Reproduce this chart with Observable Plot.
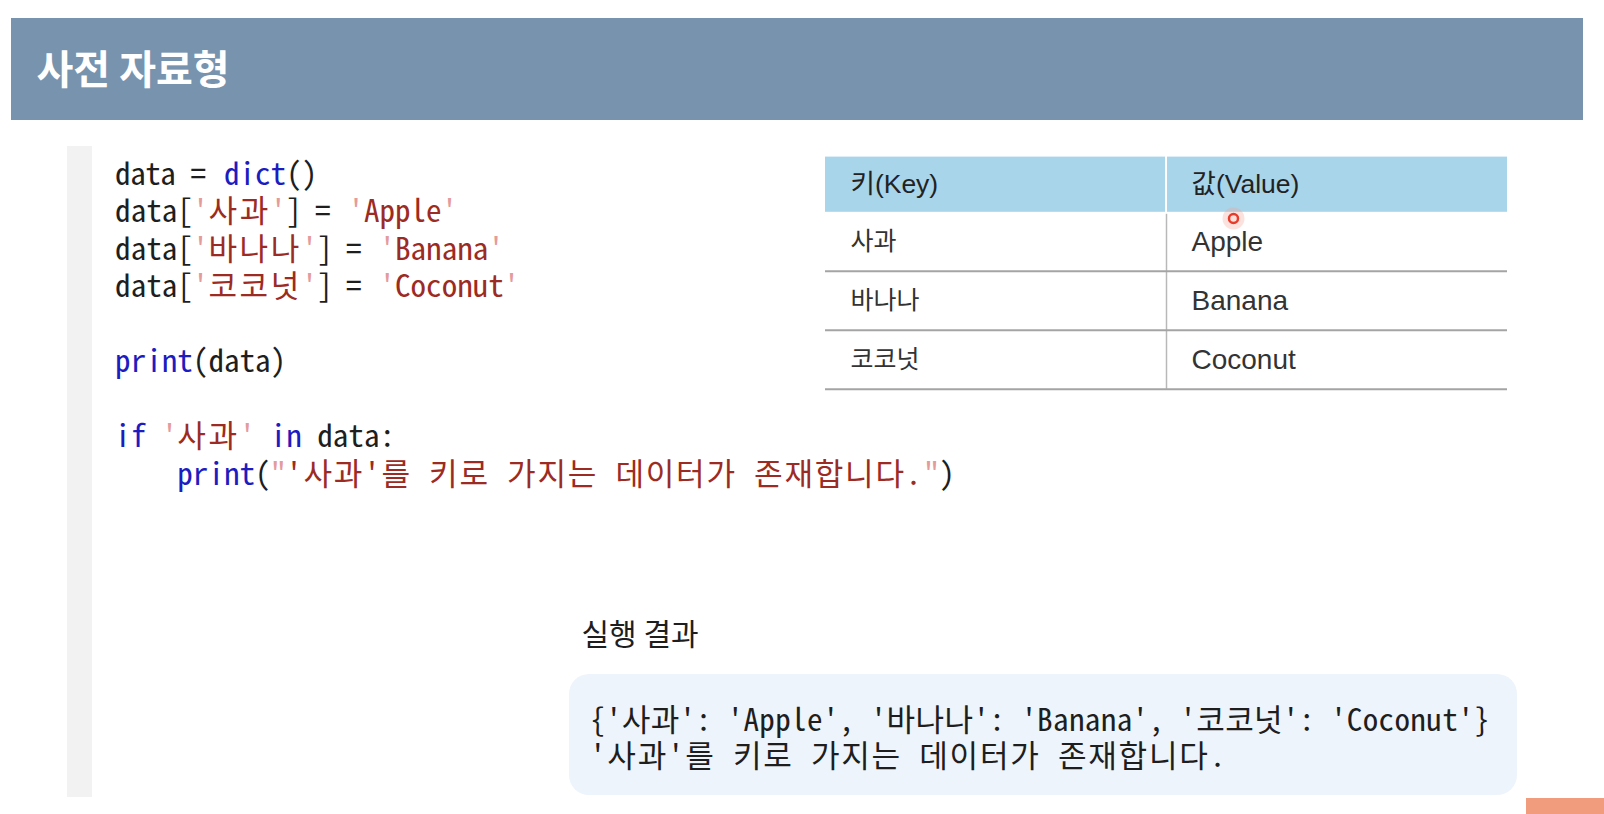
<!DOCTYPE html>
<html><head><meta charset="utf-8">
<script src="https://cdn.jsdelivr.net/npm/d3@7"></script>
<script src="https://cdn.jsdelivr.net/npm/@observablehq/plot@0.6"></script>
<style>html,body{margin:0;padding:0;background:#fff;overflow:hidden}svg{display:block}</style>
</head><body><div id="chart"></div>
<script>
// ---------- content ----------
const slideTitle = "사전 자료형";
// code tokens: [text, kind]  (t = plain, k = keyword, s = string, q = quote mark)
const codeLines = [
  [["data = ","t"],["dict","k"],["()","t"]],
  [["data[","t"],["'","q"],["사과","s"],["'","q"],["] = ","t"],["'","q"],["Apple","s"],["'","q"]],
  [["data[","t"],["'","q"],["바나나","s"],["'","q"],["] = ","t"],["'","q"],["Banana","s"],["'","q"]],
  [["data[","t"],["'","q"],["코코넛","s"],["'","q"],["] = ","t"],["'","q"],["Coconut","s"],["'","q"]],
  [],
  [["print","k"],["(data)","t"]],
  [],
  [["if ","k"],["'","q"],["사과","s"],["'","q"],[" in","k"],[" data:","t"]],
  [["    print","k"],["(","t"],["\"","q"],["'사과'를 키로 가지는 데이터가 존재합니다.","s"],["\"","q"],[")","t"]]
];
const tableHeader = ["키(Key)", "값(Value)"];
const tableKeys = ["사과", "바나나", "코코넛"];
const tableValues = ["Apple", "Banana", "Coconut"];
const resultLabel = "실행 결과";
const resultLines = [
  "{'사과': 'Apple', '바나나': 'Banana', '코코넛': 'Coconut'}",
  "'사과'를 키로 가지는 데이터가 존재합니다."
];

// ---------- layout / style ----------
const W = 1604, H = 814;
const kindColor = {t: "#1e1e1e", k: "#1c1cc0", s: "#9c2b24", q: "#e49b9b"};
const monoFont = "'Noto Sans Mono CJK KR', 'D2Coding', 'DejaVu Sans Mono', monospace";
const krFont = "'Noto Sans CJK KR', 'Noto Sans', sans-serif";
const tableFont = "'Liberation Sans', 'Noto Sans CJK KR', sans-serif";
const cellW = 15.55;
const monoSize = cellW * 2;
const isWide = ch => /[\u1100-\u11ff\u3130-\u318f\uac00-\ud7af]/.test(ch);
const cols = s => Array.from(s).reduce((n, ch) => n + (isWide(ch) ? 2 : 1), 0);

// place each token at its column on a monospace grid (Hangul = 2 columns)
function gridTokens(tokens, x0, baseline) {
  const out = [];
  let col = 0;
  for (const [txt, kind] of tokens) {
    const lead = txt.length - txt.trimStart().length;
    const body = txt.trim();
    if (body) out.push({text: body, x: x0 + (col + lead) * cellW, y: baseline, color: kindColor[kind], len: cols(body) * cellW});
    col += cols(txt);
  }
  return out;
}

const codeX0 = 114.6, codeBase0 = 184, codeLH = 37.5;
const codeTokens = codeLines.flatMap((toks, i) => gridTokens(toks, codeX0, codeBase0 + i * codeLH));
const resX0 = 589.5, resBase0 = 730, resLH = 36.8;
const resultTokens = resultLines.flatMap((line, i) => gridTokens([[line, "t"]], resX0, resBase0 + i * resLH));

const tX1 = 825, tXm = 1166, tX2 = 1507, tTop = 156.6, tHeadBot = 211.8, tRowH = 59.0;
const rowMid = i => tHeadBot + tRowH * (i + 0.5);
const rowBot = i => tHeadBot + tRowH * (i + 1);

const chart = Plot.plot({
  width: W, height: H, margin: 0,
  x: {type: "linear", domain: [0, W], range: [0, W], axis: null},
  y: {type: "linear", domain: [0, H], range: [0, H], axis: null},
  color: {type: "identity"},
  style: {background: "#ffffff"},
  marks: [
    // title bar
    Plot.rect([slideTitle], {x1: 11, x2: 1583, y1: 18, y2: 120, fill: "#7893ae"}),
    Plot.text([slideTitle], {x: 36, y: 71, text: d => d, fill: "#ffffff", fontFamily: krFont, fontWeight: "bold", fontSize: 40, textAnchor: "start", lineAnchor: "middle"}),
    // code gutter
    Plot.rect([0], {x1: 67, x2: 92, y1: 146, y2: 797, fill: "#f2f2f2"}),
    // code
    Plot.text(codeTokens, {x: "x", y: "y", text: "text", fill: "color", fontFamily: monoFont, fontSize: monoSize, textAnchor: "start", lineAnchor: "bottom", className: "codetok"}),
    // table header
    Plot.rect(tableHeader, {x1: (d, i) => i === 0 ? tX1 : tXm + 1, x2: (d, i) => i === 0 ? tXm - 1 : tX2, y1: tTop, y2: tHeadBot, fill: "#a8d5ea"}),
    Plot.text(tableHeader, {x: (d, i) => (i === 0 ? tX1 : tXm) + 25, y: (tTop + tHeadBot) / 2, text: d => d, fill: "#222", fontFamily: tableFont, fontSize: 26.5, textAnchor: "start", lineAnchor: "middle"}),
    // table body lines
    Plot.ruleX([tXm], {x: d => d, y1: tHeadBot + 2, y2: rowBot(tableKeys.length - 1), stroke: "#b8b8b8", strokeWidth: 1.5}),
    Plot.ruleY(tableKeys, {y: (d, i) => rowBot(i), x1: tX1, x2: tX2, stroke: "#a4a4a4", strokeWidth: 2}),
    // table body text
    Plot.text(tableKeys, {x: tX1 + 25, y: (d, i) => rowMid(i), text: d => d, fill: "#333", fontFamily: krFont, fontSize: 25, textAnchor: "start", lineAnchor: "middle"}),
    Plot.text(tableValues, {x: tXm + 25, y: (d, i) => rowMid(i), text: d => d, fill: "#333", fontFamily: tableFont, fontSize: 28, textAnchor: "start", lineAnchor: "middle"}),
    // cursor dot
    Plot.dot([0], {x: 1233, y: 218, r: 11, fill: "#f6a092", fillOpacity: 0.3, stroke: "none"}),
    Plot.dot([0], {x: 1233, y: 218, r: 4.5, fill: "#fde0da", stroke: "#e63c2c", strokeWidth: 2.5}),
    // result label
    Plot.text([resultLabel], {x: 581, y: 635, text: d => d, fill: "#1e1e1e", fontFamily: krFont, fontSize: 30, textAnchor: "start", lineAnchor: "middle"}),
    // result box
    Plot.rect([0], {x1: 569, x2: 1517, y1: 674, y2: 795, fill: "#eef4fb", rx: 20, className: "resultbox"}),
    Plot.text(resultTokens, {x: "x", y: "y", text: "text", fill: "color", fontFamily: monoFont, fontSize: monoSize, textAnchor: "start", lineAnchor: "bottom", className: "restok"}),
    // corner tab
    Plot.rect([0], {x1: 1526, x2: W, y1: 798, y2: H, fill: "#f29c7e"})
  ]
});
const svg = d3.select(chart);
svg.selectAll(".resultbox rect").attr("rx", 20).attr("ry", 20);
// keep every token exactly on its monospace grid width
function fitTokens(sel, tokens) {
  sel.each(function(d, i) {
    const t = tokens[typeof d === "number" ? d : i];
    if (t && t.text.length > 1 && /[\uac00-\ud7af ]/.test(t.text)) {
      d3.select(this).attr("textLength", t.len - cellW * 0.15).attr("lengthAdjust", "spacing");
    }
  });
}
fitTokens(svg.selectAll(".codetok text"), codeTokens);
fitTokens(svg.selectAll(".restok text"), resultTokens);
document.getElementById("chart").appendChild(chart);
</script>
</body></html>
